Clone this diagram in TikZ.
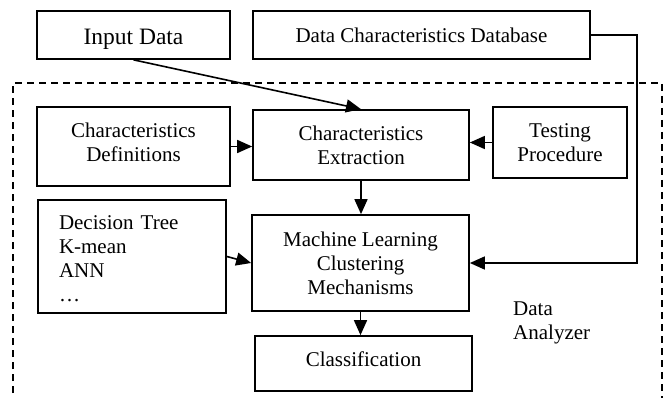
\documentclass[tikz,border=0pt]{standalone}
\usepackage{fontspec}
\setmainfont{Liberation Serif}
\usetikzlibrary{arrows.meta}
\begin{document}
\begin{tikzpicture}[x=1pt,y=-1pt,
  box/.style={draw, line width=1.7pt, inner sep=0pt, align=center,
    font=\fontsize{21}{24}\selectfont},
  conn/.style={line width=1.6pt, -{Triangle[length=15pt,width=13pt]}},
  frame/.style={line width=1.3pt, dash pattern=on 7pt off 5pt},
  lbl/.style={inner sep=0pt, align=left, font=\fontsize{21}{24}\selectfont}]
\useasboundingbox (0,0) rectangle (663,398);
% dashed frame of the Data Analyzer
\draw[frame] (13,405) -- (13,83) -- (662,83) -- (662,405);
% boxes
\node[box, minimum width=193pt, minimum height=48pt,
      font=\fontsize{23.5}{27}\selectfont, text height=20pt, text depth=1.4pt]
      (inp) at (133.5,35) {Input Data};
\node[box, minimum width=337pt, minimum height=48pt] (dcd) at (421.5,35)
      {Data Characteristics Database};
\node[box, minimum width=193pt, minimum height=79pt] (defs) at (133.5,146.5)
      {Characteristics\\Definitions\rule[-9pt]{0pt}{0pt}};
\node[box, minimum width=216pt, minimum height=70pt] (ext) at (361,145)
      {Characteristics\\Extraction};
\node[box, minimum width=134pt, minimum height=71pt] (test) at (560,142.5)
      {Testing\\Procedure};
\node[box, minimum width=188pt, minimum height=113pt, align=left, text width=146pt]
      (dt) at (132,256.5)
      {\rule{0pt}{19pt}Decision Tree\\K-mean\\ANN\\…};
\node[box, minimum width=217pt, minimum height=96pt] (ml) at (360.5,263)
      {Machine Learning\\Clustering\\Mechanisms};
\node[box, minimum width=217pt, minimum height=55pt, text height=14pt, text depth=7.6pt]
      (cls) at (363.5,363.5) {Classification};
\node[lbl, anchor=north west] (an) at (513,302) {Data\\Analyzer};
% connectors
\coordinate (bend) at (637,35);
\draw[conn] (inp.south) -- (ext.north);
\draw[conn] (defs.east) -- (defs.east -| ext.west);
\draw[conn] (test.west) -- (test.west -| ext.east);
\draw[conn] (ext.south) -- (ext.south |- ml.north);
\draw[conn] (ml.south) -- (ml.south |- cls.north);
\draw[conn] (dt.east) -- (ml.west);
\draw[conn] (dcd.east) -- (bend) |- (ml.east);
\end{tikzpicture}
\end{document}
